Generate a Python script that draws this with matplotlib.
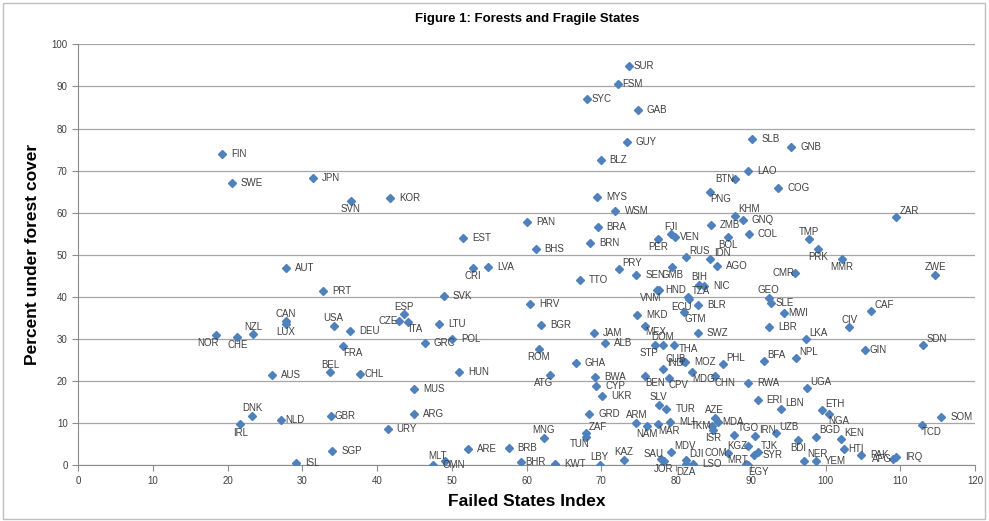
import matplotlib
matplotlib.use("Agg")
import matplotlib.pyplot as plt
from matplotlib.patches import Rectangle

# Datos: código de país, índice de estados fallidos, % de cobertura forestal
codes = ["FIN", "SWE", "JPN", "SUR", "FSM", "SYC", "GAB", "GUY", "BLZ", "SLB",
         "LAO", "BTN", "GNB", "COG", "ZAR", "TMP", "PRK", "MMR", "CMR", "ZWE",
         "GEO", "SLE", "MWI", "CAF", "CIV", "LBR", "KOR", "SVN", "EST", "PAN",
         "BHS", "LVA", "CRI", "PRT", "SVK", "HRV", "ESP", "CZE", "ITA", "USA",
         "LTU", "DEU", "BGR", "AUT", "CAN", "NZL", "NOR", "CHE", "LUX", "AUS",
         "DNK", "IRL", "NLD", "ISL", "MYS", "WSM", "PNG", "BRA", "BRN", "KHM",
         "GNQ", "ZMB", "COL", "FJI", "VEN", "PER", "BOL", "RUS", "IDN", "AGO",
         "PRY", "GMB", "SEN", "TTO", "BIH", "NIC", "HND", "VNM", "TZA", "ECU",
         "BLR", "GTM", "MKD", "MEX", "JAM", "SWZ", "ALB", "STP", "DOM", "THA",
         "ROM", "GHA", "CUB", "MOZ", "IND", "MDG", "CPV", "PHL", "CHN", "BWA",
         "BEN", "ATG", "RWA", "CYP", "UKR", "ERI", "SLV", "TUR", "GRD", "AZE",
         "MDA", "ARM", "MLI", "MAR", "NAM", "TKM", "ISR", "ZAF", "TUN", "MNG",
         "TGO", "IRN", "KGZ", "TJK", "SYR", "COM", "MDV", "SAU", "JOR", "DJI",
         "DZA", "LSO", "MRT", "EGY", "KAZ", "LBY", "KWT", "FRA", "GRC", "POL",
         "BEL", "CHL", "HUN", "MUS", "GBR", "ARG", "URY", "SGP", "ARE", "BRB",
         "MLT", "OMN", "BHR", "LKA", "SDN", "GIN", "BFA", "NPL", "UGA", "LBN",
         "ETH", "NGA", "SOM", "TCD", "UZB", "BGD", "KEN", "BDI", "HTI", "PAK",
         "AFG", "IRQ", "NER", "YEM"]

failed_index = [19.3, 20.6, 31.4, 73.7, 72.3, 68.1, 74.9, 73.4, 69.9, 90.2,
                89.6, 87.9, 95.4, 93.7, 109.4, 97.8, 99.0, 102.2, 95.9, 114.7,
                92.4, 92.7, 94.4, 106.1, 103.2, 92.4, 41.8, 36.5, 51.5, 60.1,
                61.2, 54.9, 52.8, 32.8, 48.9, 60.5, 43.6, 42.9, 44.1, 34.2,
                48.3, 36.4, 61.9, 27.8, 27.8, 23.4, 18.4, 21.3, 27.8, 26.0,
                23.3, 21.7, 27.1, 29.2, 69.4, 71.9, 84.6, 69.5, 68.5, 87.9,
                88.9, 84.7, 89.7, 79.3, 79.9, 77.6, 86.9, 81.3, 84.6, 85.5,
                72.4, 79.5, 74.7, 67.1, 83.1, 83.8, 77.4, 77.7, 81.6, 81.7,
                82.9, 81.1, 74.8, 75.9, 69.0, 82.9, 70.5, 77.2, 78.2, 79.7,
                61.6, 66.6, 80.9, 81.2, 78.3, 82.2, 79.0, 86.3, 85.2, 69.2,
                75.9, 63.2, 89.6, 69.3, 70.1, 90.9, 77.7, 78.7, 68.4, 85.2,
                85.6, 74.7, 79.2, 77.6, 76.1, 84.8, 85.0, 67.9, 68.0, 62.3,
                87.8, 90.6, 89.6, 90.9, 90.4, 86.9, 79.3, 78.0, 78.4, 81.3,
                81.3, 82.3, 89.4, 89.6, 73.0, 69.8, 63.8, 35.5, 46.4, 50.0,
                33.7, 37.7, 51.0, 45.0, 33.8, 45.0, 41.4, 34.0, 52.2, 57.6,
                49.1, 47.5, 59.3, 97.4, 113.1, 105.3, 91.8, 96.0, 97.5, 94.1,
                99.5, 100.4, 115.5, 112.9, 93.4, 98.7, 102.0, 96.3, 102.5, 104.8,
                109.0, 109.4, 97.1, 98.7]

forest_cover = [73.9, 67.1, 68.3, 94.8, 90.6, 86.9, 84.5, 76.7, 72.5, 77.6,
                70.0, 67.9, 75.7, 65.8, 58.9, 53.7, 51.4, 49.0, 45.6, 45.3,
                39.8, 38.5, 36.2, 36.6, 32.8, 32.8, 63.5, 62.8, 53.9, 57.7,
                51.4, 47.2, 46.9, 41.5, 40.1, 38.2, 35.9, 34.3, 34.0, 33.2,
                33.5, 32.0, 33.4, 46.9, 34.2, 31.1, 30.9, 30.5, 33.6, 21.4,
                11.8, 9.7, 10.8, 0.5, 63.7, 60.4, 65.0, 56.5, 52.9, 59.3,
                58.2, 57.1, 54.9, 54.9, 54.2, 53.8, 54.3, 49.4, 48.9, 47.4,
                46.6, 47.2, 45.1, 44.1, 42.8, 42.7, 41.7, 41.6, 39.9, 39.4,
                38.1, 36.3, 35.7, 33.2, 31.4, 31.5, 29.1, 28.6, 28.6, 28.6,
                27.7, 24.3, 24.7, 24.6, 22.8, 22.2, 20.8, 24.1, 21.2, 21.0,
                21.3, 21.4, 19.6, 18.9, 16.5, 15.4, 14.4, 13.3, 12.1, 11.3,
                10.2, 10.1, 10.3, 9.8, 9.4, 9.3, 8.4, 7.6, 6.8, 6.6,
                7.3, 6.9, 4.5, 3.1, 2.4, 3.0, 3.1, 1.5, 1.0, 1.3,
                0.3, 0.3, 0.2, 0.0, 1.3, 0.1, 0.3, 28.3, 29.1, 30.1,
                22.1, 21.6, 22.1, 18.2, 11.8, 12.1, 8.7, 3.4, 3.9, 4.0,
                1.0, 0.0, 0.7, 29.9, 28.5, 27.4, 24.8, 25.4, 18.4, 13.4,
                13.1, 12.2, 11.4, 9.5, 7.7, 6.8, 6.2, 6.0, 3.9, 2.5,
                1.6, 2.0, 1.1, 1.1]

# Posición de la etiqueta respecto al punto (por defecto a la derecha)
label_side = {
    "SUR": "rc", "FSM": "rc", "SYC": "rc", "VEN": "rc", "MDA": "rc", "NLD": "rc",
    "CHL": "rc", "BHR": "rc", "GBR": "rc", "GIN": "rc", "MWI": "rc", "SLE": "rc",
    "HTI": "rc",
    "BTN": "l", "ZAR": "ar", "TMP": "a", "PRK": "b", "MMR": "b", "CMR": "l",
    "ZWE": "a", "GEO": "a", "CAF": "ar", "CIV": "a", "SVN": "b", "CRI": "b",
    "ESP": "a", "CZE": "l", "ITA": "br", "USA": "a", "CAN": "a", "NZL": "a",
    "NOR": "bl", "CHE": "b", "LUX": "b", "DNK": "a", "IRL": "b", "PNG": "br",
    "KHM": "ar", "FJI": "a", "PER": "b", "BOL": "b", "RUS": "ar", "IDN": "ar",
    "PRY": "ar", "GMB": "b", "BIH": "a", "VNM": "bl", "TZA": "ar", "ECU": "bl",
    "GTM": "br", "MEX": "br", "STP": "bl", "DOM": "a", "THA": "brc", "ROM": "b",
    "CUB": "alc", "IND": "ar", "MDG": "br", "CPV": "br", "PHL": "ar", "CHN": "br",
    "BEN": "br", "ATG": "bl", "SLV": "a", "AZE": "a", "ARM": "a", "MAR": "br",
    "NAM": "b", "TKM": "l", "ISR": "b", "ZAF": "ar", "TUN": "bl", "MNG": "a",
    "TGO": "ar", "IRN": "ar", "KGZ": "l", "TJK": "ar", "COM": "l", "MDV": "ar",
    "SAU": "al", "JOR": "b", "DJI": "ar", "DZA": "b", "MRT": "al", "EGY": "br",
    "KAZ": "a", "LBY": "a", "FRA": "br", "BEL": "a", "MLT": "al", "LKA": "ar",
    "SDN": "ar", "BFA": "ar", "NPL": "ar", "UGA": "ar", "LBN": "ar", "ETH": "ar",
    "NGA": "br", "TCD": "br", "UZB": "ar", "BGD": "ar", "KEN": "ar", "BDI": "b",
    "AFG": "l", "NER": "ar",
}

# desplazamiento (puntos) del centro de la etiqueta y alineación horizontal
offsets = {
    "r": ((6.5, 0), "left"),
    "rc": ((3, 0), "left"),
    "l": ((-0.5, 0), "right"),
    "a": ((0, 5.5), "center"),
    "b": ((0, -6), "center"),
    "ar": ((2.5, 4.5), "left"),
    "al": ((1.5, 3.5), "right"),
    "alc": ((2.5, 1.5), "right"),
    "br": ((0, -5), "left"),
    "brc": ((3.5, -3), "left"),
    "bl": ((2, -5.5), "right"),
}

plt.rcParams['font.family'] = ['Liberation Sans Narrow', 'Liberation Sans', 'DejaVu Sans']

fig = plt.figure(figsize=(9.89, 5.21), dpi=100)
fig.patches.append(Rectangle((0.003, 0.004), 0.993, 0.991, transform=fig.transFigure,
                             fill=False, edgecolor='#BFBFBF', linewidth=1))
ax = fig.add_axes([0.0789, 0.1069, 0.907, 0.808])

ax.plot(failed_index, forest_cover, linestyle='none', marker='D', markersize=4.2,
        color='#4F81BD', markeredgecolor='#4F81BD', zorder=3)

for code, x, y in zip(codes, failed_index, forest_cover):
    (dx, dy), ha = offsets[label_side.get(code, "r")]
    ax.annotate(code, (x, y), xytext=(dx, dy), textcoords='offset points',
                ha=ha, va='center', fontsize=7, color='#404040', zorder=4)

ax.set_xlim(0, 120)
ax.set_ylim(0, 100)
ax.set_xticks(range(0, 121, 10))
ax.set_yticks(range(0, 101, 10))
ax.yaxis.grid(True, color='#A6A6A6', linewidth=0.9)
ax.set_axisbelow(True)
for side in ['top', 'right']:
    ax.spines[side].set_visible(False)
for side in ['left', 'bottom']:
    ax.spines[side].set_color('#8C8C8C')
ax.tick_params(axis='both', direction='out', length=4, color='#8C8C8C',
               labelsize=7, labelcolor='#404040')

ax.set_xlabel('Failed States Index', fontsize=12.5, fontweight='bold', labelpad=6)
ax.set_ylabel('Percent under forest cover', fontsize=12.5, fontweight='bold', labelpad=8)
fig.suptitle('Figure 1: Forests and Fragile States', fontsize=9.5, fontweight='bold',
             x=0.533, y=0.975)

fig.savefig('out.png', dpi=100)
